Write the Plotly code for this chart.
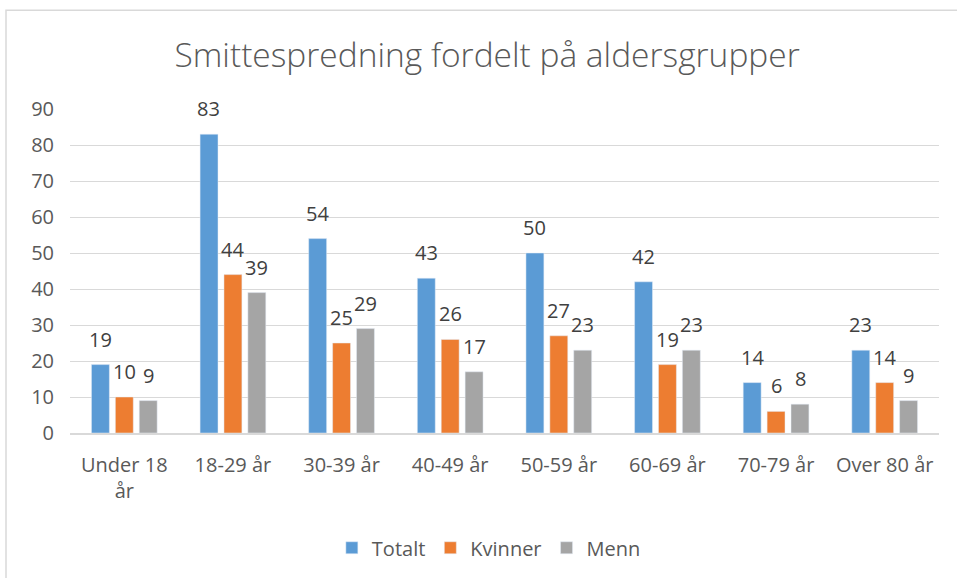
import plotly.graph_objects as go

categories = ["Under 18<br>år", "18-29 år", "30-39 år", "40-49 år", "50-59 år", "60-69 år", "70-79 år", "Over 80 år"]
totalt = [19, 83, 54, 43, 50, 42, 14, 23]
kvinner = [10, 44, 25, 26, 27, 19, 6, 14]
menn = [9, 39, 29, 17, 23, 23, 8, 9]
series_names = ["Totalt", "Kvinner", "Menn"]
colors = ["#5B9BD5", "#ED7D31", "#A5A5A5"]
y_ticks = [0, 10, 20, 30, 40, 50, 60, 70, 80, 90]

FONT = "Open Sans"
TXT = "#595959"
SZ = 20

fig = go.Figure()
all_series = [totalt, kvinner, menn]
for name, vals, col in zip(series_names, all_series, colors):
    fig.add_trace(go.Bar(
        x=categories, y=vals, name=name, marker_color=col, hoverinfo="skip",
    ))

annotations = []
for i, vals in enumerate(all_series):
    for cat, v in zip(categories, vals):
        annotations.append(dict(
            x=cat, y=v, xref="x", yref="y", text=str(v), showarrow=False,
            xshift=(i - 1) * 24, yshift=10, yanchor="bottom",
            font=dict(family=FONT, size=SZ, color="#404040"),
        ))

fig.update_layout(
    width=957, height=578,
    paper_bgcolor="white", plot_bgcolor="white",
    margin=dict(l=70, r=18, t=109, b=144),
    barmode="group", bargap=0.34, bargroupgap=0.25,
    title=dict(text="Smittespredning fordelt på aldersgrupper", x=0.509, xanchor="center",
               y=1 - 55 / 578, yanchor="middle",
               font=dict(family=FONT, size=33.5, color=TXT, weight=300)),
    font=dict(family=FONT, size=SZ, color=TXT),
    legend=dict(orientation="h", x=0.482, xanchor="center", y=-0.35, yanchor="middle",
                font=dict(family=FONT, size=SZ, color=TXT), itemwidth=30,
                traceorder="normal"),
    annotations=annotations,
    shapes=[dict(type="rect", xref="paper", yref="paper",
                 x0=-64 / 869, x1=1.2, y0=-1.0, y1=1 + 99 / 325,
                 line=dict(color="#d9d9d9", width=1.5), layer="below")],
)
fig.update_xaxes(showgrid=False, showline=True, linecolor="#d9d9d9", linewidth=1.5,
                 ticks="", tickfont=dict(family=FONT, size=SZ, color=TXT),
                 ticklabelstandoff=13)
fig.update_yaxes(range=[0, 90], tickvals=y_ticks, showgrid=True, gridcolor="#d9d9d9",
                 gridwidth=1, zeroline=False, showline=False, ticks="",
                 tickfont=dict(family=FONT, size=SZ, color=TXT), ticklabelstandoff=15)

fig.write_html("out.html", config={"displayModeBar": False},
               post_script="document.body.style.margin='0';")
